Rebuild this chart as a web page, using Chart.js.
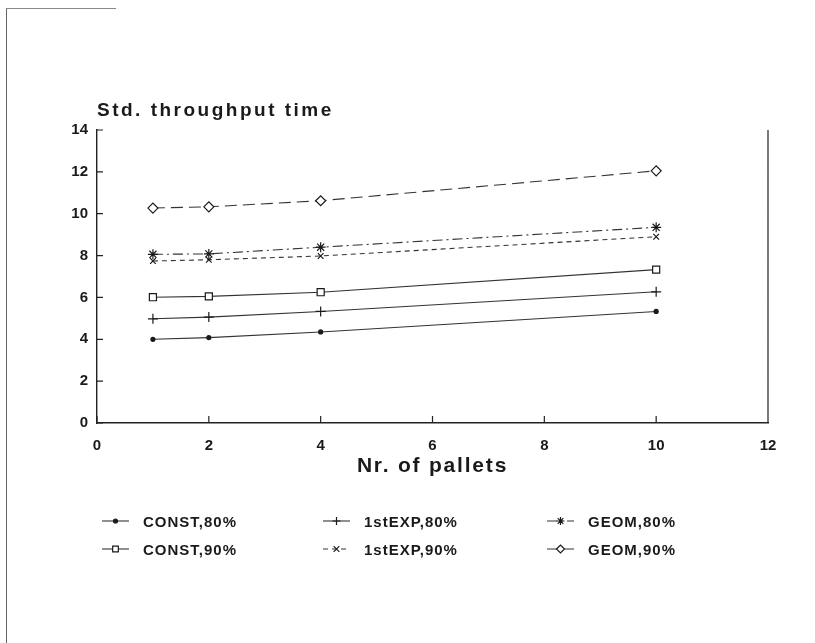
<!DOCTYPE html>
<html>
<head>
<meta charset="utf-8">
<script src="https://cdn.jsdelivr.net/npm/chart.js@4.4.1/dist/chart.umd.min.js"></script>
<style>
    html, body { margin: 0; padding: 0; background: #fff; }
    #wrap { position: relative; width: 815px; height: 643px; }
    /* scanned page edge */
    #edgeLeft { position: absolute; left: 6px; top: 8px; width: 1px; height: 635px; background: #666; }
    #edgeTop { position: absolute; left: 6px; top: 8px; width: 110px; height: 1px; background: #888; }
</style>
</head>
<body>
<div id="wrap">
    <canvas id="chart" width="815" height="643"></canvas>
    <div id="edgeLeft"></div>
    <div id="edgeTop"></div>
</div>
<script>
// Nr. of pallets
const pallets = [1, 2, 4, 10];

// std. throughput time per series
const const80 = [4.0, 4.08, 4.35, 5.33];
const exp80 = [4.98, 5.06, 5.33, 6.27];
const geom80 = [8.06, 8.08, 8.4, 9.35];
const const90 = [6.01, 6.05, 6.25, 7.33];
const exp90 = [7.74, 7.8, 7.98, 8.9];
const geom90 = [10.27, 10.33, 10.62, 12.05];

const seriesNames = ['CONST,80%', '1stEXP,80%', 'GEOM,80%', 'CONST,90%', '1stEXP,90%', 'GEOM,90%'];

const yTitle = 'Std. throughput time';
const xTitle = 'Nr. of pallets';

const FONT = "'Liberation Sans', Arial, Helvetica, sans-serif";
const INK = '#1a1a1a';

function toPoints(values) {
    return pallets.map((p, i) => ({x: p, y: values[i]}));
}

function series(label, values, pointStyle, radius, fill, dash) {
    return {
        label: label,
        data: toPoints(values),
        borderColor: '#333',
        borderWidth: 1.1,
        borderDash: dash,
        pointStyle: pointStyle,
        pointRadius: radius,
        pointBackgroundColor: fill,
        pointBorderColor: INK,
        pointBorderWidth: 1.2,
        tension: 0
    };
}

function drawText(ctx, text, x, y, font, align, spacing) {
    ctx.save();
    ctx.font = font;
    ctx.fillStyle = INK;
    ctx.textAlign = align;
    ctx.textBaseline = 'alphabetic';
    ctx.letterSpacing = spacing + 'px';
    ctx.fillText(text, x, y);
    ctx.restore();
}

// frame, inward ticks, titles and the 3x2 legend under the plot
const decorations = {
    id: 'decorations',
    afterDraw(chart) {
        const {ctx, chartArea: a, scales: {x, y}} = chart;

        ctx.save();
        ctx.strokeStyle = '#222';
        ctx.lineWidth = 1.2;
        ctx.beginPath();
        ctx.moveTo(a.right, a.top);
        ctx.lineTo(a.right, a.bottom);
        y.ticks.forEach(t => {
            const py = y.getPixelForValue(t.value);
            ctx.moveTo(a.left, py);
            ctx.lineTo(a.left + 6, py);
        });
        x.ticks.forEach(t => {
            const px = x.getPixelForValue(t.value);
            ctx.moveTo(px, a.bottom);
            ctx.lineTo(px, a.bottom - 7);
        });
        ctx.stroke();
        ctx.restore();

        drawText(ctx, yTitle, a.left, a.top - 14, 'bold 19px ' + FONT, 'left', 2.5);
        drawText(ctx, xTitle, (a.left + a.right) / 2, a.bottom + 49, 'bold 21px ' + FONT, 'center', 1.8);

        const cols = [102, 323, 547];
        const rows = [521, 549];
        chart.data.datasets.forEach((ds, i) => {
            const lx = cols[i % 3];
            const ly = rows[Math.floor(i / 3)];
            ctx.save();
            ctx.strokeStyle = ds.borderColor;
            ctx.lineWidth = ds.borderWidth;
            ctx.setLineDash(ds.borderDash || []);
            ctx.beginPath();
            ctx.moveTo(lx, ly);
            ctx.lineTo(lx + 27, ly);
            ctx.stroke();
            ctx.setLineDash([]);
            ctx.fillStyle = ds.pointBackgroundColor;
            ctx.strokeStyle = ds.pointBorderColor;
            ctx.lineWidth = ds.pointBorderWidth;
            Chart.helpers.drawPoint(ctx, {
                pointStyle: ds.pointStyle,
                radius: Math.min(ds.pointRadius, 4),
                rotation: 0,
                borderWidth: ds.pointBorderWidth
            }, lx + 13.5, ly);
            ctx.restore();
            drawText(ctx, ds.label, lx + 41, ly + 5.5, 'bold 15px ' + FONT, 'left', 1);
        });
    }
};

new Chart(document.getElementById('chart'), {
    type: 'line',
    data: {
        datasets: [
            series(seriesNames[0], const80, 'circle', 2, INK, []),
            series(seriesNames[1], exp80, 'cross', 5, INK, []),
            series(seriesNames[2], geom80, 'star', 5, INK, [10, 4, 2, 4]),
            series(seriesNames[3], const90, 'rect', 5, '#fff', []),
            series(seriesNames[4], exp90, 'crossRot', 4, INK, [5, 4]),
            series(seriesNames[5], geom90, 'rectRot', 5, '#fff', [12, 6])
        ]
    },
    options: {
        responsive: false,
        animation: false,
        devicePixelRatio: 1,
        layout: {
            padding: {left: 0, right: 47, top: 130, bottom: 180}
        },
        plugins: {
            legend: {display: false},
            tooltip: {enabled: false}
        },
        scales: {
            x: {
                type: 'linear',
                min: 0,
                max: 12,
                grid: {display: false, drawTicks: false},
                border: {display: true, color: '#222', width: 1.4},
                ticks: {
                    stepSize: 2,
                    padding: 14,
                    color: INK,
                    font: {family: FONT, size: 15, weight: 'bold'}
                },
                afterFit: s => { s.height = 40; }
            },
            y: {
                min: 0,
                max: 14,
                grid: {display: false, drawTicks: false},
                border: {display: true, color: '#222', width: 1.4},
                ticks: {
                    stepSize: 2,
                    padding: 9,
                    color: INK,
                    font: {family: FONT, size: 15, weight: 'bold'}
                },
                afterFit: s => { s.width = 97; }
            }
        }
    },
    plugins: [decorations]
});
</script>
</body>
</html>
